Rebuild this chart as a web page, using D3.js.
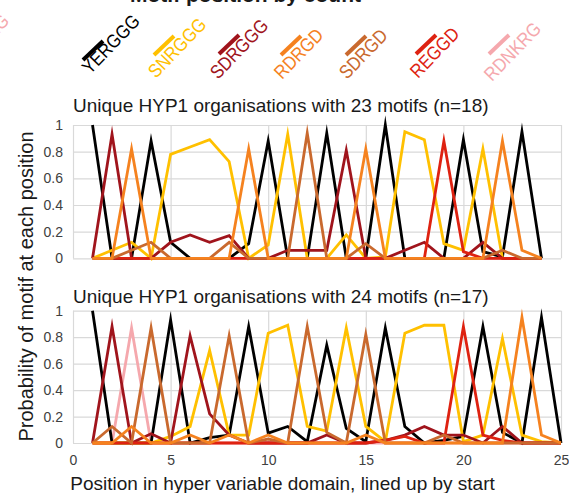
<!DOCTYPE html>
<html><head><meta charset="utf-8">
<script src="https://cdn.jsdelivr.net/npm/d3@7"></script>
<style>html,body{margin:0;padding:0;background:#fff;overflow:hidden}</style>
</head><body><svg id="c" width="569" height="493"></svg>
<script>
// ---------- data ----------
const motifs = ["YERGGG","SNRGGG","SDRGGG","RDRGD","SDRGD","REGGD","RDNKRG"];
const motifColors = ["#000000","#FFC000","#A0141C","#F5821F","#C9692E","#DE2211","#F5A8AD"];
const xTicks = [0,5,10,15,20,25];
const yTicks = [0,0.2,0.4,0.6,0.8,1];
const yTickLabels = ["0","0.2","0.4","0.6","0.8","1"];
const xTickLabels = ["0","5","10","15","20","25"];
const panelTitles = ["Unique HYP1 organisations with 23 motifs (n=18)","Unique HYP1 organisations with 24 motifs (n=17)"];
const chartTitle = "Motif position by count";
const yAxisTitle = "Probability of motif at each position";
const xAxisTitle = "Position in hyper variable domain, lined up by start";

// 23 motifs (positions 1..24)
const top_YERGGG = [1.0,0,0,0.88,0.12,0,0,0,0.11,0.88,0,0,0.94,0,0,1.0,0,0,0,0.89,0.05,0.01,0.95,0];
const top_SNRGGG = [0,0.06,0.12,0,0.78,0.835,0.89,0.725,0,0.1,0.93,0,0,0.175,0,0.01,0.95,0.89,0.11,0.06,0.82,0,0,0];
const top_SDRGGG = [0,0.93,0,0,0.12,0.175,0.12,0.17,0,0,0.06,0.06,0.06,0.81,0,0,0.06,0.12,0,0,0.12,0,0,0];
const top_RDRGD  = [0,0,0.82,0,0,0,0,0,0.82,0,0,0,0,0,0.82,0,0,0,0,0,0,0.88,0.06,0];
const top_SDRGD  = [0,0,0.06,0.12,0,0,0,0.12,0,0,0,0.94,0,0,0.11,0,0,0,0,0,0,0.06,0,0];
const top_REGGD  = [0,0,0,0,0,0,0,0,0,0,0,0,0,0,0,0,0,0,0.88,0.05,0,0,0,0];
const top_RDNKRG = [0,0,0,0,0,0,0,0,0,0,0,0,0,0,0,0,0,0,0,0,0,0,0,0];

// 24 motifs (positions 1..25)
const bot_YERGGG = [1.0,0,0,0,0.93,0,0.04,0.06,0.88,0.075,0.125,0.01,0.74,0.11,0.01,0.87,0.125,0,0.02,0.05,0.88,0.08,0,0.95,0];
const bot_SNRGGG = [0,0,0,0,0.05,0.125,0.7,0.06,0.06,0.83,0.89,0.125,0.09,0.87,0.125,0.01,0.83,0.89,0.89,0.01,0.06,0.79,0.06,0.01,0];
const bot_SDRGGG = [0,0.88,0,0.07,0,0.81,0.22,0.06,0,0,0,0,0.06,0,0,0.02,0.06,0.125,0.06,0.06,0,0.125,0,0,0];
const bot_RDRGD  = [0,0,0.125,0,0,0.06,0,0.06,0,0.06,0,0,0,0,0.06,0,0,0,0,0,0,0,0.95,0.06,0];
const bot_SDRGD  = [0,0.125,0,0.87,0,0,0,0.81,0,0.03,0,0.88,0.08,0,0.82,0,0,0,0.06,0,0,0,0,0,0];
const bot_REGGD  = [0,0,0,0,0,0,0,0,0,0,0,0,0,0,0,0.02,0.05,0,0,0.88,0.06,0.02,0,0,0];
const bot_RDNKRG = [0,0,0.87,0,0,0,0,0,0,0,0,0,0,0,0,0,0,0,0,0,0,0,0,0,0];

// ---------- layout ----------
const FONT = "'Liberation Sans', Arial, sans-serif";
const svg = d3.select("#c");
const x = d3.scaleLinear().domain([0,25]).range([73,561]);
const drawOrder = [6,0,1,2,5,4,3];

const panels = [
  {title: panelTitles[0], range:[258.3,125], titleY:112, showX:false,
   series:[top_YERGGG,top_SNRGGG,top_SDRGGG,top_RDRGD,top_SDRGD,top_REGGD,top_RDNKRG]},
  {title: panelTitles[1], range:[443,310.7], titleY:303, showX:true,
   series:[bot_YERGGG,bot_SNRGGG,bot_SDRGGG,bot_RDRGD,bot_SDRGD,bot_REGGD,bot_RDNKRG]}
];

panels.forEach(p => {
  const y = d3.scaleLinear().domain([0,1]).range(p.range);
  const g = svg.append("g");
  g.append("g").attr("transform",`translate(${x(0)},0)`)
    .call(d3.axisLeft(y).tickValues(yTicks).tickSize(-(x(25)-x(0))).tickFormat(""))
    .call(a=>a.select(".domain").remove())
    .call(a=>a.selectAll("line").attr("stroke","#d9d9d9").attr("stroke-width",1.2));
  g.append("g").attr("transform",`translate(0,${y(0)})`)
    .call(d3.axisBottom(x).tickValues(xTicks).tickSize(-(y(0)-y(1))).tickFormat(""))
    .call(a=>a.select(".domain").remove())
    .call(a=>a.selectAll("line").attr("stroke","#d9d9d9").attr("stroke-width",1.2));
  g.append("g").attr("transform",`translate(${x(0)-7},0)`)
    .call(d3.axisLeft(y).tickValues(yTicks).tickSize(0).tickPadding(3).tickFormat((d,i)=>yTickLabels[i]))
    .call(a=>a.select(".domain").remove())
    .call(a=>a.selectAll("text").attr("font-family",FONT).attr("font-size",14).attr("fill","#404040"));
  if (p.showX) {
    g.append("g").attr("transform",`translate(0,${y(0)+9})`)
      .call(d3.axisBottom(x).tickValues(xTicks).tickSize(0).tickPadding(3).tickFormat((d,i)=>xTickLabels[i]))
      .call(a=>a.select(".domain").remove())
      .call(a=>a.selectAll("text").attr("font-family",FONT).attr("font-size",14).attr("fill","#404040"));
  }
  g.append("text").attr("x",x(0)).attr("y",p.titleY)
    .attr("font-family",FONT).attr("font-size",19).attr("fill","#1a1a1a").text(p.title);
  const line = d3.line().x((d,i)=>x(i+1)).y(d=>y(d));
  drawOrder.forEach(k => {
    g.append("path").datum(p.series[k]).attr("d",line)
      .attr("fill","none").attr("stroke",motifColors[k]).attr("stroke-width",2.8)
      .attr("stroke-linejoin","miter").attr("stroke-miterlimit",12);
  });
});

// legend: text start (bottom-left of first glyph) and marker start
const legendLayout = [
  {tx:90,ty:75,lx:83,ly:60},
  {tx:156,ty:79,lx:154,ly:55},
  {tx:218,ty:80,lx:219,ly:54},
  {tx:282,ty:80,lx:281,ly:55},
  {tx:347,ty:80,lx:346,ly:55},
  {tx:418,ty:79,lx:416,ly:54},
  {tx:492,ty:82,lx:489,ly:54}
];
const ANG = -46;
const TXT = `rotate(${ANG}) scale(0.88,1)`;
const lg = svg.append("g");
motifs.forEach((m,i) => {
  const L = legendLayout[i];
  lg.append("line").attr("x1",L.lx).attr("y1",L.ly).attr("x2",L.lx+20).attr("y2",L.ly-19)
    .attr("stroke",motifColors[i]).attr("stroke-width",4);
  lg.append("text").attr("transform",`translate(${L.tx},${L.ty}) ${TXT}`)
    .attr("font-family",FONT).attr("font-size",19).attr("fill",motifColors[i]).text(m);
});
// cut-off pieces at the top edge
svg.append("text").attr("transform",`translate(-40,74) ${TXT}`)
  .attr("font-family",FONT).attr("font-size",19).attr("fill",motifColors[6]).text(motifs[6]);
svg.append("text").attr("x",130).attr("y",1.5).attr("font-family",FONT).attr("font-size",21)
  .attr("font-weight","bold").attr("fill","#1a1a1a").text(chartTitle);

// axis titles
svg.append("text").attr("transform","translate(33,286.5) rotate(-90)").attr("text-anchor","middle")
  .attr("font-family",FONT).attr("font-size",20).attr("fill","#1a1a1a").text(yAxisTitle);
svg.append("text").attr("x",282.5).attr("y",490).attr("text-anchor","middle")
  .attr("font-family",FONT).attr("font-size",19).attr("fill","#1a1a1a").text(xAxisTitle);
</script></body></html>
